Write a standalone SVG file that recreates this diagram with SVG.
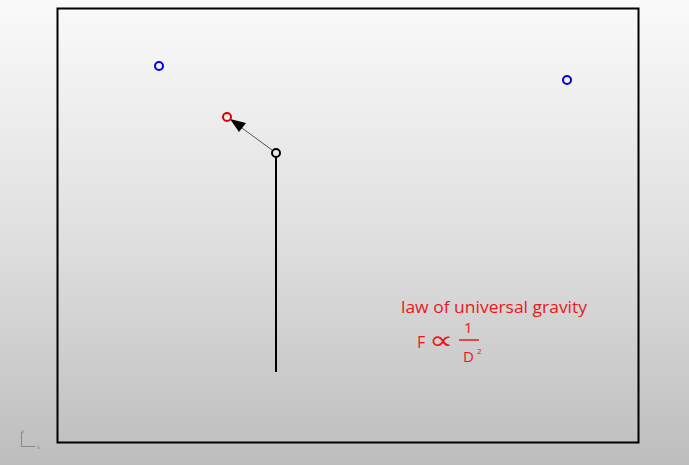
<svg xmlns="http://www.w3.org/2000/svg" width="689" height="465" viewBox="0 0 689 465">
<defs>
<linearGradient id="bg" x1="0" y1="0" x2="0" y2="1">
<stop offset="0" stop-color="#fafafa"/>
<stop offset="0.5" stop-color="#e0e0e0"/>
<stop offset="1" stop-color="#bdbdbd"/>
</linearGradient>
<style>
.pt{fill:none;stroke-width:2}
.red{fill:#e8181c;font-family:"Open Sans","Liberation Sans",sans-serif}
</style>
</defs>
<rect width="689" height="465" fill="url(#bg)"/>
<rect x="57.5" y="8.5" width="581" height="434" fill="none" stroke="#000" stroke-width="2"/>
<g id="axis" stroke="#888" stroke-width="1" fill="none">
<path d="M21.5,432 V446.5 H35"/>
<text x="21" y="433" font-size="6" fill="#888" stroke="none" font-family="Liberation Sans, sans-serif">y</text>
<text x="37" y="449" font-size="6" fill="#888" stroke="none" font-family="Liberation Sans, sans-serif">x</text>
</g>
<g id="connectors">
<line x1="276" y1="157" x2="276" y2="372" stroke="#000" stroke-width="2"/>
<line x1="272" y1="150" x2="231" y2="120" stroke="#555" stroke-width="1"/>
<path d="M230,119 L246,123 L239,132 z" fill="#000"/>
</g>
<g id="blue1"><circle cx="159" cy="66" r="4" class="pt" stroke="#0000e0"/></g>
<g id="blue2"><circle cx="567" cy="80" r="4" class="pt" stroke="#0000e0"/></g>
<g id="red"><circle cx="227" cy="117" r="4" class="pt" stroke="#e00000"/></g>
<g id="origin"><circle cx="276" cy="153" r="4" class="pt" stroke="#000"/></g>
<g id="label">
<text x="401" y="313" font-size="17" class="red" textLength="186" lengthAdjust="spacingAndGlyphs">law of universal gravity</text>
<text x="417" y="348" font-size="16" class="red">F</text>
<text transform="translate(429,349) scale(1.3,1)" font-size="26" fill="#e8181c" font-family="DejaVu Sans, sans-serif">∝</text>
<text x="464" y="333" font-size="15" class="red">1</text>
<line x1="459" y1="340" x2="479" y2="340" stroke="#e8181c" stroke-width="1.5"/>
<text x="463" y="362" font-size="15" class="red">D</text>
<text x="477" y="354" font-size="8" class="red">2</text>
</g>
</svg>
